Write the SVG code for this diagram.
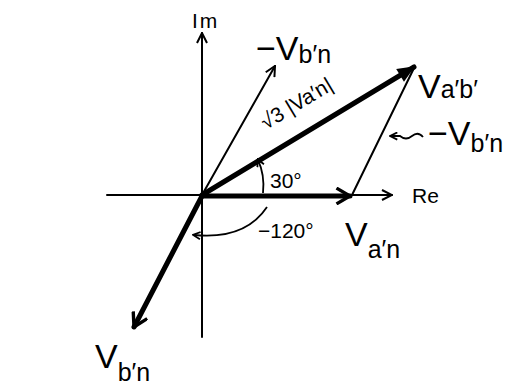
<svg xmlns="http://www.w3.org/2000/svg" width="511" height="390" viewBox="0 0 511 390">
<style>
.thin{stroke:#000;stroke-width:2;fill:none;stroke-linecap:round}
.thick{stroke:#000;stroke-width:5;fill:none;stroke-linecap:round}
.arc{stroke:#000;stroke-width:1.8;fill:none}
text{font-family:"Liberation Sans",Arial,sans-serif;fill:#000}
.big{font-size:34px}
.sub{font-size:25px}
.mid{font-size:21px}
</style>
<defs>
<marker id="open" viewBox="0 0 12 12" refX="11" refY="6" markerWidth="12" markerHeight="12" markerUnits="userSpaceOnUse" orient="auto">
<path d="M1,1 L11,6 L1,11" fill="none" stroke="#000" stroke-width="2"/>
</marker>
<marker id="openThick" viewBox="0 0 16 16" refX="14" refY="8" markerWidth="18" markerHeight="18" markerUnits="userSpaceOnUse" orient="auto">
<path d="M2,1 L14,8 L2,15" fill="none" stroke="#000" stroke-width="3"/>
</marker>
<marker id="solid" viewBox="0 0 16 16" refX="14" refY="8" markerWidth="20" markerHeight="20" markerUnits="userSpaceOnUse" orient="auto">
<path d="M1,2 L15,8 L1,14 Z" fill="#000"/>
</marker>
<marker id="small" viewBox="0 0 10 10" refX="8" refY="5" markerWidth="9" markerHeight="9" markerUnits="userSpaceOnUse" orient="auto">
<path d="M1,1 L9,5 L1,9" fill="none" stroke="#000" stroke-width="2"/>
</marker>
</defs>
<g id="connectors">
<line id="im-axis" class="thin" x1="202" y1="337" x2="202" y2="33" marker-end="url(#open)"/>
<line id="re-axis" class="thin" x1="107" y1="195" x2="392" y2="195" marker-end="url(#open)"/>
<line id="neg-vbn" class="thin" x1="202" y1="195" x2="275" y2="66" marker-end="url(#open)"/>
<line id="neg-vbn-2" class="thin" x1="352" y1="195" x2="414" y2="68"/>
<line id="van" class="thick" x1="202" y1="196" x2="350" y2="196" marker-end="url(#openThick)"/>
<line id="vab" class="thick" x1="202" y1="195" x2="414" y2="67" marker-end="url(#solid)"/>
<line id="vbn" class="thick" x1="202" y1="196" x2="134" y2="327" marker-end="url(#openThick)"/>
<path id="arc30" class="arc" d="M263,193 Q265,175 258,160" marker-end="url(#small)"/>
<path id="arc120" class="arc" d="M267,207 Q245,240 194,235" marker-end="url(#small)"/>
<path id="squiggle" class="arc" d="M423,137 Q418,131 412,136 Q406,141 400,136 L391,136" marker-end="url(#small)"/>
</g>
<g id="label-im"><text class="mid" x="192" y="28" letter-spacing="2">Im</text></g>
<g id="label-re"><text class="mid" x="412" y="203">Re</text></g>
<g id="label-neg-vbn-top"><text x="256" y="60"><tspan class="big">−V</tspan><tspan class="sub" dy="3">b′n</tspan></text></g>
<g id="label-vab"><text x="418" y="98"><tspan class="big">V</tspan><tspan class="sub" dy="0">a′b′</tspan></text></g>
<g id="label-sqrt3"><text class="mid" font-size="22" transform="translate(266,130) rotate(-31)">√3 |Va′n|</text></g>
<g id="label-neg-vbn-right"><text x="428" y="145"><tspan class="big">−V</tspan><tspan class="sub" dy="7">b′n</tspan></text></g>
<g id="label-30"><text class="mid" x="270" y="188">30°</text></g>
<g id="label-120"><text class="mid" x="258" y="238">−120°</text></g>
<g id="label-van"><text x="345" y="246"><tspan class="big">V</tspan><tspan class="sub" dy="12">a′n</tspan></text></g>
<g id="label-vbn"><text x="95" y="368"><tspan class="big">V</tspan><tspan class="sub" dy="13">b′n</tspan></text></g>
</svg>
